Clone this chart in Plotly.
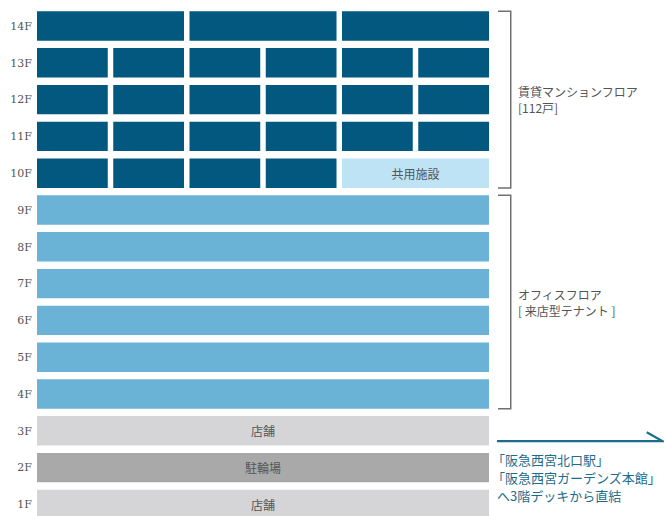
import plotly.graph_objects as go

# ---------------- data ----------------
floor_numbers = list(range(1, 15))
floor_labels = [f"{n}F" for n in floor_numbers]

# residential floors: number of units and columns per unit (6-column grid)
res_floors = [14, 13, 12, 11, 10]
res_units = [3, 6, 6, 6, 4]
res_unit_cols = [2, 1, 1, 1, 1]

common_floor = 10
common_label = "共用施設"
common_cols = 2

office_floors = [4, 5, 6, 7, 8, 9]

shop_floors = [1, 3]
shop_labels = ["店舗", "店舗"]
parking_floors = [2]
parking_labels = ["駐輪場"]

res_group_label = "賃貸マンションフロア<br>[112戸]"
office_group_label = "オフィスフロア<br>[ 来店型テナント ]"
access_lines = ["「阪急西宮北口駅」", "「阪急西宮ガーデンズ本館」", "へ3階デッキから直結"]

# ---------------- styling ----------------
GRID_COLS = 6
GAP = 0.072
BAR_W = 0.80
C_RES = "#02587f"
C_COMMON = "#bee3f5"
C_OFFICE = "#6ab2d6"
C_SHOP = "#d5d5d7"
C_PARK = "#a9a9a9"
TXT = "#555555"
TEAL = "#1c6d8d"
JP = "Noto Sans CJK JP"

fig = go.Figure()

def add_bars(ys, starts, lengths, color, texts=None):
    fig.add_trace(go.Bar(
        orientation="h", y=ys, x=lengths, base=starts, width=BAR_W,
        marker=dict(color=color, line=dict(width=0)),
        text=texts, textposition="inside", insidetextanchor="middle",
        textangle=0, constraintext="none",
        textfont=dict(family=JP, size=12, color=TXT),
        hoverinfo="skip", showlegend=False,
    ))

# residential units
ry, rs, rl = [], [], []
for f, n, c in zip(res_floors, res_units, res_unit_cols):
    for k in range(n):
        ry.append(f)
        rs.append(k * c)
        rl.append(c - GAP)
add_bars(ry, rs, rl, C_RES)

# common facility on 10F
add_bars([common_floor], [GRID_COLS - common_cols], [common_cols - GAP], C_COMMON, [common_label])

# office floors
add_bars(office_floors, [0] * len(office_floors), [GRID_COLS - GAP] * len(office_floors), C_OFFICE)

# shops and parking
add_bars(shop_floors, [0] * len(shop_floors), [GRID_COLS - GAP] * len(shop_floors), C_SHOP, shop_labels)
add_bars(parking_floors, [0] * len(parking_floors), [GRID_COLS - GAP] * len(parking_floors), C_PARK, parking_labels)

# brackets
full_right = GRID_COLS - GAP
bx0 = full_right + 0.118
bx1 = full_right + 0.285
def bracket(ytop, ybot):
    fig.add_shape(type="path",
                  path=f"M {bx0} {ytop} L {bx1} {ytop} L {bx1} {ybot} L {bx0} {ybot}",
                  xref="x", yref="y", line=dict(color="#707070", width=1.5))

r_top, r_bot = max(res_floors) + BAR_W / 2, min(res_floors) - BAR_W / 2
o_top, o_bot = max(office_floors) + BAR_W / 2, min(office_floors) - BAR_W / 2
bracket(r_top, r_bot)
bracket(o_top, o_bot)

fig.add_annotation(x=bx1 + 0.07, y=(r_top + r_bot) / 2, text=res_group_label,
                   xanchor="left", yanchor="middle", align="left", showarrow=False,
                   font=dict(family=JP, size=12, color=TXT))
fig.add_annotation(x=bx1 + 0.07, y=(o_top + o_bot) / 2, text=office_group_label,
                   xanchor="left", yanchor="middle", align="left", showarrow=False,
                   font=dict(family=JP, size=12, color=TXT))

# access arrow (between 3F and 2F)
ay = 2.72
fig.add_shape(type="path",
              path=f"M {full_right + 0.105} {ay} L 8.20 {ay} L 7.996 {ay + 0.24}",
              xref="x", yref="y", line=dict(color=TEAL, width=2.2))
line_x = [full_right + 0.03, full_right + 0.03, full_right + 0.092]
line_y = [2.215, 1.735, 1.255]
for t, lx, ly in zip(access_lines, line_x, line_y):
    fig.add_annotation(x=lx, y=ly, text=t, borderpad=0,
                       xanchor="left", yanchor="middle", align="left", showarrow=False,
                       font=dict(family=JP, size=13, color=TEAL))

fig.update_layout(
    width=664, height=516,
    margin=dict(l=37, r=0, t=0, b=0),
    paper_bgcolor="white", plot_bgcolor="white",
    barmode="overlay", hovermode=False,
    xaxis=dict(range=[0, 8.223], visible=False, fixedrange=True),
    yaxis=dict(range=[0.6848, 14.7065], tickvals=floor_numbers, ticktext=floor_labels,
               showgrid=False, zeroline=False, showline=False, ticks="",
               ticklabelstandoff=4,
               tickfont=dict(family="DejaVu Serif", size=11, color=TXT), fixedrange=True),
)

fig.write_html("out.html", config={"displayModeBar": False},
               post_script="document.body.style.margin='0';document.body.style.overflow='hidden';")
